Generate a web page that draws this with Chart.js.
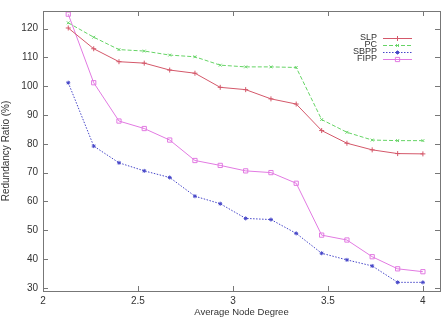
<!DOCTYPE html>
<html>
<head>
<meta charset="utf-8">
<script src="https://cdn.jsdelivr.net/npm/chart.js@4/dist/chart.umd.min.js"></script>
<style>
  html, body { margin:0; padding:0; background:#fff; }
  #wrap { width:446px; height:318px; }
</style>
</head>
<body>
<div id="wrap"><canvas id="c" width="446" height="318"></canvas></div>
<script>
// node degree values (x) and redundancy ratios (%)
const degrees = [2.133, 2.267, 2.4, 2.533, 2.667, 2.8, 2.933, 3.067, 3.2, 3.333, 3.467, 3.6, 3.733, 3.867, 4.0];
const slp  = [120.2, 113.0, 108.5, 108.0, 105.6, 104.5, 99.6, 98.8, 95.6, 93.8, 84.6, 80.2, 77.9, 76.6, 76.5];
const pc   = [122.0, 117.0, 112.7, 112.2, 110.8, 110.2, 107.3, 106.7, 106.7, 106.5, 88.4, 84.0, 81.3, 81.1, 81.1];
const sbpp = [101.2, 79.2, 73.4, 70.6, 68.3, 61.8, 59.2, 54.1, 53.7, 48.9, 42.0, 39.7, 37.6, 31.9, 31.9];
const fipp = [125.0, 101.2, 87.9, 85.3, 81.3, 74.2, 72.5, 70.6, 70.0, 66.3, 48.3, 46.6, 40.8, 36.6, 35.6];

const xTicks = [2, 2.5, 3, 3.5, 4];
const yTicks = [30, 40, 50, 60, 70, 80, 90, 100, 110, 120];

const FONT = 'Liberation Sans, Arial, Helvetica, sans-serif';
const TXT = '#333';
const AXIS = '#777';

const pts = arr => arr.map((v, i) => ({ x: degrees[i], y: v }));

const series = [
  { label:'SLP',  data:pts(slp),  borderColor:'#d4586a', pointStyle:'cross',    borderDash:[],        pointRadius:2.5 },
  { label:'PC',   data:pts(pc),   borderColor:'#66d466', pointStyle:'crossRot', borderDash:[4,2],     pointRadius:2 },
  { label:'SBPP', data:pts(sbpp), borderColor:'#4646c8', pointStyle:'star',     borderDash:[1.5,1.5], pointRadius:2 },
  { label:'FIPP', data:pts(fipp), borderColor:'#e27ae2', pointStyle:'rect',     borderDash:[],        pointRadius:3 },
].map(s => ({
  ...s,
  backgroundColor:'transparent',
  pointBorderColor:s.borderColor,
  pointBackgroundColor:'transparent',
  pointBorderWidth:1,
  borderWidth:1,
  tension:0,
  fill:false,
}));

// gnuplot-style frame: box, inward ticks on all four sides, legend on the right
const framePlugin = {
  id:'frame',
  afterDatasetsDraw(chart) {
    const { ctx, chartArea:a, scales:{ x, y } } = chart;
    ctx.save();
    ctx.strokeStyle = AXIS;
    ctx.lineWidth = 1;
    ctx.strokeRect(a.left + 0.5, a.top + 0.5, a.right - a.left, a.bottom - a.top);
    ctx.beginPath();
    xTicks.forEach(v => {
      const px = Math.round(x.getPixelForValue(v)) + 0.5;
      ctx.moveTo(px, a.bottom); ctx.lineTo(px, a.bottom - 5);
      ctx.moveTo(px, a.top);    ctx.lineTo(px, a.top + 5);
    });
    yTicks.forEach(v => {
      const py = Math.round(y.getPixelForValue(v)) + 0.5;
      ctx.moveTo(a.left, py);  ctx.lineTo(a.left + 5, py);
      ctx.moveTo(a.right, py); ctx.lineTo(a.right - 5, py);
    });
    ctx.stroke();

    // legend
    const tx = 377, lx0 = 383, lx1 = 412;
    let ly = 38;
    ctx.font = '9px ' + FONT;
    ctx.textAlign = 'right';
    ctx.textBaseline = 'middle';
    chart.data.datasets.forEach(ds => {
      ctx.fillStyle = TXT;
      ctx.fillText(ds.label, tx, ly);
      ctx.strokeStyle = ds.borderColor;
      ctx.setLineDash(ds.borderDash);
      ctx.beginPath();
      ctx.moveTo(lx0, ly + 0.5); ctx.lineTo(lx1, ly + 0.5);
      ctx.stroke();
      ctx.setLineDash([]);
      ctx.fillStyle = 'rgba(0,0,0,0)';
      if (Chart.helpers && Chart.helpers.drawPoint) {
        Chart.helpers.drawPoint(ctx, { pointStyle:ds.pointStyle, radius:ds.pointRadius, borderWidth:1, rotation:0 },
          (lx0 + lx1) / 2, ly + 0.5);
      }
      ly += 7;
    });
    ctx.restore();
  }
};

new Chart(document.getElementById('c').getContext('2d'), {
  type:'line',
  data:{ datasets:series },
  options:{
    responsive:false,
    animation:false,
    events:[],
    layout:{ padding:{ top:5, right:6, left:0, bottom:0 } },
    scales:{
      x:{
        type:'linear', min:2, max:4.09,
        grid:{ display:false, drawTicks:false },
        border:{ display:false },
        afterBuildTicks: s => { s.ticks = xTicks.map(v => ({ value:v })); },
        afterFit: s => { s.height = 27; },
        ticks:{ color:TXT, font:{ family:FONT, size:10 }, padding:4, maxRotation:0, callback: v => String(v) },
        title:{ display:true, text:'Average Node Degree', color:TXT, font:{ family:FONT, size:9.5 }, padding:0 },
      },
      y:{
        type:'linear', min:28.9, max:126.1,
        grid:{ display:false, drawTicks:false },
        border:{ display:false },
        afterBuildTicks: s => { s.ticks = yTicks.map(v => ({ value:v })); },
        afterFit: s => { s.width = 43; },
        ticks:{ color:TXT, font:{ family:FONT, size:10 }, padding:5, callback: v => String(v) },
        title:{ display:true, text:'Redundancy Ratio (%)', color:TXT, font:{ family:FONT, size:10 }, padding:0 },
      },
    },
    plugins:{ legend:{ display:false }, tooltip:{ enabled:false } },
  },
  plugins:[framePlugin],
});
</script>
</body>
</html>
